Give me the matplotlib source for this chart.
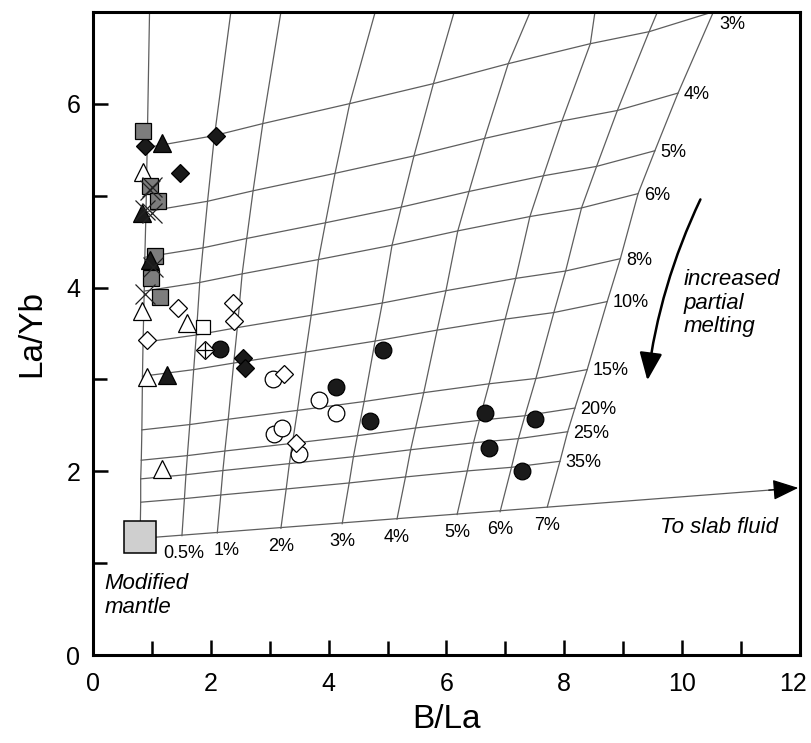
import numpy as np
import matplotlib.pyplot as plt
from matplotlib.patches import FancyArrowPatch
from matplotlib.ticker import MultipleLocator
from matplotlib.transforms import ScaledTranslation

plt.rcParams['font.family'] = ['Liberation Sans', 'DejaVu Sans']

# slab-fluid addition to the source (bottom mixing line)
fluid_labels = ['', '0.5%', '1%', '2%', '3%', '4%', '5%', '6%', '7%']
source_b_la = np.array([0.80, 1.51, 2.11, 3.19, 4.23, 5.16, 6.18, 6.91, 7.71])
source_la_yb = np.array([1.27, 1.30, 1.33, 1.38, 1.43, 1.48, 1.53, 1.56, 1.61])
top_b_la = np.array([0.96, 2.34, 3.19, 4.79, 6.13, 7.42, 8.52, 9.58, 10.53])

# degree of partial melting, as multipliers on the source ratios
melt_labels = ['3%', '4%', '5%', '6%', '8%', '10%', '15%', '20%', '25%', '35%']
melt_la_yb_factor = np.array([4.35, 3.80, 3.41, 3.12, 2.68, 2.39, 1.93, 1.67, 1.51, 1.31])
melt_b_la_factor = np.array([1.366, 1.288, 1.237, 1.200, 1.161, 1.132, 1.088, 1.061, 1.045, 1.028])
mantle_line_b_la = np.array([0.92, 0.90, 0.88, 0.87, 0.85, 0.84, 0.83, 0.82, 0.81, 0.81])

mantle_b_la, mantle_la_yb = 0.80, 1.28

# samples
grey_sq_x = [0.85, 0.96, 1.11, 1.06, 0.98, 1.14]
grey_sq_y = [5.71, 5.11, 4.94, 4.34, 4.10, 3.90]
black_tri_x = [1.17, 0.83, 0.97, 1.25]
black_tri_y = [5.57, 4.81, 4.30, 3.05]
open_tri_x = [0.85, 0.84, 1.59, 0.92, 1.17]
open_tri_y = [5.26, 3.74, 3.61, 3.03, 2.02]
black_dia_x = [0.89, 2.09, 1.48, 2.55, 2.58]
black_dia_y = [5.54, 5.65, 5.25, 3.23, 3.12]
open_dia_x = [1.45, 2.38, 2.40, 0.92, 3.25, 3.45]
open_dia_y = [3.78, 3.83, 3.64, 3.43, 3.06, 2.31]
cross_x = [1.00, 0.97, 0.88, 1.00, 1.02, 0.88]
cross_y = [5.09, 5.06, 4.85, 4.81, 4.22, 3.93]
open_sq_x = [1.87]
open_sq_y = [3.57]
crossed_dia_x = [1.90]
crossed_dia_y = [3.32]
open_circ_x = [3.05, 3.83, 4.13, 3.07, 3.20, 3.50]
open_circ_y = [3.01, 2.78, 2.63, 2.41, 2.47, 2.19]
black_circ_x = [2.16, 4.92, 4.13, 4.71, 6.66, 7.50, 6.73, 7.28]
black_circ_y = [3.33, 3.32, 2.92, 2.55, 2.63, 2.57, 2.25, 2.00]

fig = plt.figure(figsize=(8.12, 7.43), dpi=100)
ax = fig.add_axes([0.1145, 0.1184, 0.8707, 0.8654])
ax.set_xlim(0, 12)
ax.set_ylim(0, 7)

# melting grid nodes
grid_x = np.outer(melt_b_la_factor, source_b_la)
grid_x[:, 0] = mantle_line_b_la
grid_y = np.outer(melt_la_yb_factor, source_la_yb)

gcol = '#5e5e5e'
for i in range(len(melt_labels)):
    ax.plot(grid_x[i], grid_y[i], color=gcol, lw=0.9, zorder=1)
    dy = -9 if i == 0 else -1
    ax.annotate(melt_labels[i], (grid_x[i, -1], grid_y[i, -1]), xytext=(4, dy),
                textcoords='offset points', ha='left', va='center', fontsize=13)

nudge = {1: 1, 2: 7}
for j in range(len(fluid_labels)):
    fx = np.concatenate([[source_b_la[j]], grid_x[::-1, j], [top_b_la[j]]])
    fy = np.concatenate([[source_la_yb[j]], grid_y[::-1, j], [7.0]])
    if j == 0:
        fx[0], fy[0] = mantle_b_la, mantle_la_yb
    ax.plot(fx, fy, color=gcol, lw=0.9, zorder=1)
    if fluid_labels[j]:
        ax.annotate(fluid_labels[j], (source_b_la[j], source_la_yb[j]),
                    xytext=(nudge.get(j, 0), -13), textcoords='offset points',
                    ha='center', va='center', fontsize=13)

# mixing line towards the slab fluid
slope = (source_la_yb[-1] - source_la_yb[0]) / (source_b_la[-1] - source_b_la[0])
tip_x = 11.97
tip_y = source_la_yb[0] + slope * (tip_x - source_b_la[0])
ax.plot([mantle_b_la, tip_x - 0.3], [source_la_yb[0], tip_y - 0.3 * slope],
        color=gcol, lw=0.9, zorder=1)
ax.add_patch(FancyArrowPatch((tip_x - 0.5, tip_y - 0.5 * slope), (tip_x, tip_y),
                             arrowstyle='-|>,head_length=0.8,head_width=0.32',
                             mutation_scale=20, color='black', lw=0.9,
                             shrinkA=0, shrinkB=0, zorder=2))

ax.add_patch(FancyArrowPatch((10.31, 4.96), (9.41, 2.99),
                             connectionstyle='arc3,rad=0.08',
                             arrowstyle='-|>,head_length=0.85,head_width=0.35',
                             mutation_scale=20, color='black', lw=1.8,
                             shrinkA=0, shrinkB=0, zorder=2))

ew = 0.9
kw = dict(linestyle='none', markeredgecolor='black', markeredgewidth=ew, zorder=3)
ax.plot(black_circ_x, black_circ_y, 'o', ms=12, markerfacecolor='#1a1a1a', **kw)
ax.plot(open_circ_x, open_circ_y, 'o', ms=12, markerfacecolor='white', **kw)
ax.plot(open_dia_x, open_dia_y, 'D', ms=9, markerfacecolor='white', **kw)
ax.plot(crossed_dia_x, crossed_dia_y, 'D', ms=9, markerfacecolor='white', **kw)
ax.plot(crossed_dia_x, crossed_dia_y, '+', ms=12, markeredgecolor='black',
        markeredgewidth=ew, linestyle='none', zorder=3)
ax.plot(open_sq_x, open_sq_y, 's', ms=10.5, markerfacecolor='white', **kw)
ax.plot(black_dia_x, black_dia_y, 'D', ms=9, markerfacecolor='#1a1a1a', **kw)
ax.plot(open_tri_x, open_tri_y, '^', ms=13, markerfacecolor='white', **kw)
ax.plot(grey_sq_x, grey_sq_y, 's', ms=12, markerfacecolor='#7d7d7d', **kw)
ax.plot(black_tri_x, black_tri_y, '^', ms=13, markerfacecolor='#1a1a1a', **kw)
ax.plot(cross_x, cross_y, 'x', ms=14, markeredgecolor='#222222',
        markeredgewidth=0.9, linestyle='none', zorder=4)
ax.plot([mantle_b_la], [mantle_la_yb], 's', ms=23, markerfacecolor='#cfcfcf',
        markeredgecolor='black', markeredgewidth=1.1, zorder=3)

ax.text(0.19, 0.65, 'Modified\nmantle', style='italic', fontsize=16,
        ha='left', va='center', linespacing=1.15)
ax.text(11.63, 1.39, 'To slab fluid', style='italic', fontsize=16,
        ha='right', va='center')
ax.text(10.02, 3.83, 'increased\npartial\nmelting', style='italic', fontsize=16,
        ha='left', va='center', linespacing=1.15)

ax.set_xticks(range(0, 13, 2))
ax.xaxis.set_minor_locator(MultipleLocator(1))
ax.yaxis.set_major_locator(MultipleLocator(2))
ax.yaxis.set_minor_locator(MultipleLocator(1))
ax.tick_params(which='both', direction='in', width=1.8, top=False, right=False)
ax.tick_params(which='major', length=11, labelsize=18)
ax.tick_params(which='minor', length=10)
ax.tick_params(axis='x', which='major', pad=12)
ax.tick_params(axis='y', which='major', pad=9)
for s in ax.spines.values():
    s.set_linewidth(2.2)

# keep the last x label inside the figure
last = ax.get_xticklabels()[-1]
last.set_transform(last.get_transform() + ScaledTranslation(-5 / 72, 0, fig.dpi_scale_trans))

ax.set_xlabel('B/La', fontsize=24, labelpad=6)
ax.set_ylabel('La/Yb', fontsize=24, labelpad=14)

fig.savefig('out.png', dpi=100)
